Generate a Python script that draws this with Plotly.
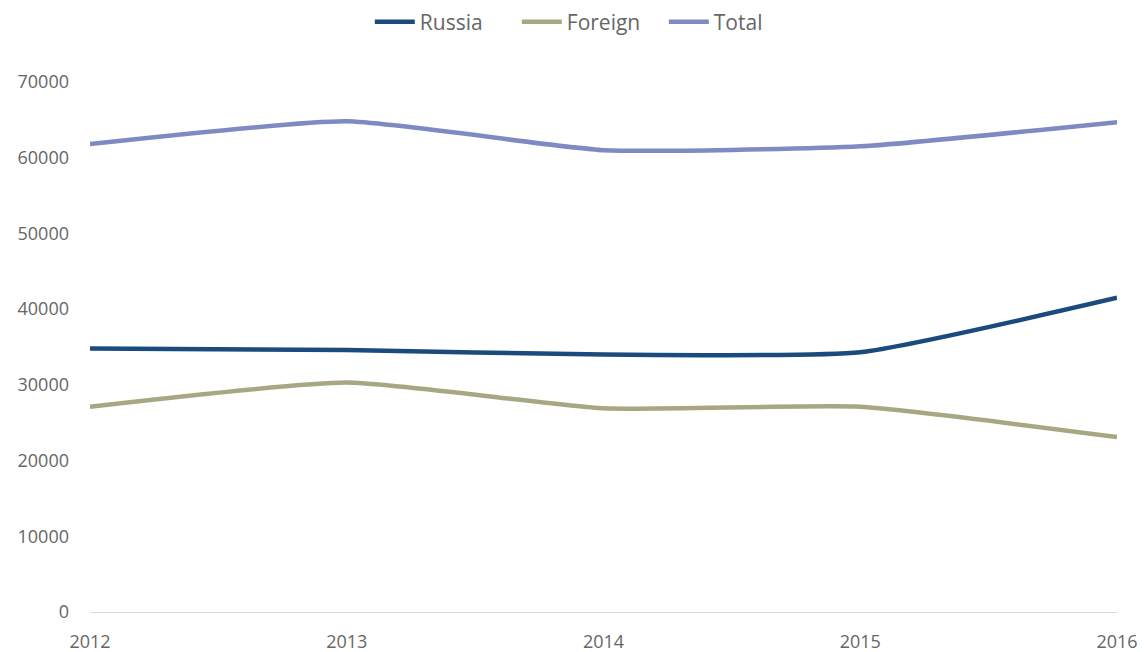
import plotly.graph_objects as go

years = ["2012", "2013", "2014", "2015", "2016"]
russia = [34800, 34600, 34000, 34300, 41500]
foreign = [27100, 30300, 26900, 27100, 23100]
total = [61800, 64800, 61000, 61500, 64700]

series = [
    ("Russia", russia, "#1b4a7c"),
    ("Foreign", foreign, "#a8a784"),
    ("Total", total, "#7d8bc2"),
]

fig = go.Figure()
for name, vals, color in series:
    fig.add_trace(go.Scatter(
        x=years, y=vals, name=name, mode="lines",
        line=dict(color=color, width=4.5, shape="spline", smoothing=0.5),
    ))

fig.update_layout(
    width=1144, height=652,
    plot_bgcolor="white", paper_bgcolor="white",
    margin=dict(l=90, r=27, t=82, b=40),
    font=dict(family="Open Sans", size=18, color="#666666"),
    legend=dict(orientation="h", x=0.516, xanchor="center", xref="container",
                y=0.966, yanchor="middle", yref="container",
                font=dict(size=21, color="#666666"), entrywidth=92,
                itemwidth=40, tracegroupgap=0),
    xaxis=dict(type="category", range=[0, 4], showgrid=False, zeroline=False,
               showline=True, linecolor="#d9d9d9", linewidth=1, ticks="",
               ticklabelstandoff=13, tickfont=dict(size=18), automargin=False),
    yaxis=dict(range=[0, 70000], dtick=10000, tickformat="d", showgrid=False,
               zeroline=False, showline=False, ticks="", ticklabelstandoff=20,
               tickfont=dict(size=18), automargin=False),
)

# drop the page's default body margin so the figure fills the window exactly
fig.write_html("out.html", config={"displayModeBar": False},
               post_script="document.body.style.margin='0';document.body.style.overflow='hidden';")
